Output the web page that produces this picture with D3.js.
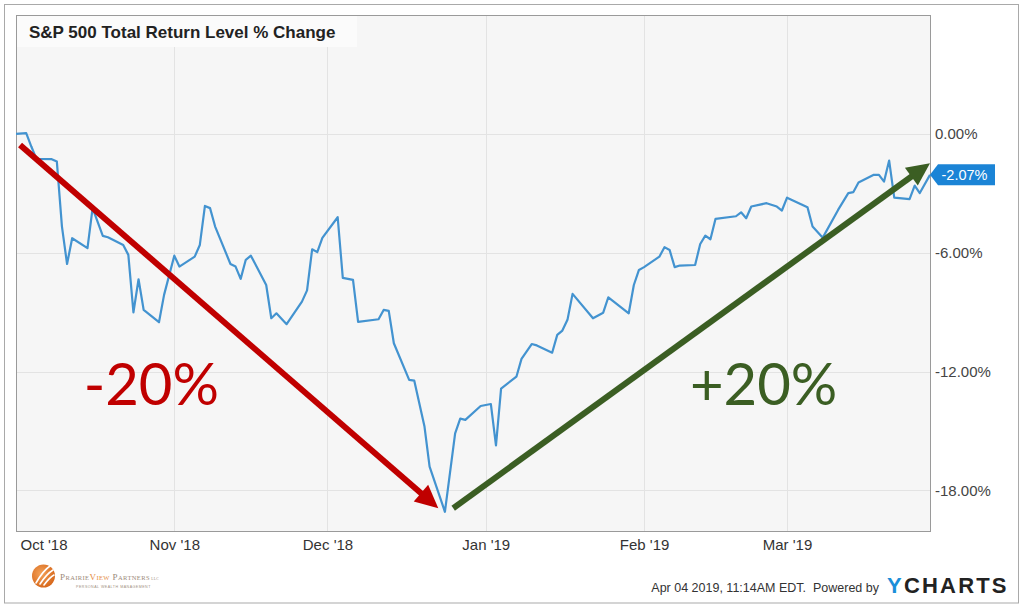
<!DOCTYPE html>
<html><head><meta charset="utf-8">
<script src="https://cdn.jsdelivr.net/npm/d3@7"></script>
<style>html,body{margin:0;padding:0;background:#fff;} svg{display:block;}</style>
</head><body><svg id="chart" width="1024" height="608"></svg>
<script>
const titleText = "S&P 500 Total Return Level % Change";
const dates = [
"2018-10-01","2018-10-03","2018-10-04","2018-10-05","2018-10-08","2018-10-09","2018-10-10","2018-10-11","2018-10-12","2018-10-15",
"2018-10-16","2018-10-18","2018-10-19","2018-10-22","2018-10-23","2018-10-24","2018-10-25","2018-10-26","2018-10-29","2018-10-30",
"2018-11-01","2018-11-02","2018-11-05","2018-11-06","2018-11-07","2018-11-08","2018-11-09","2018-11-12","2018-11-13","2018-11-14",
"2018-11-15","2018-11-16","2018-11-19","2018-11-20","2018-11-21","2018-11-23","2018-11-26","2018-11-27","2018-11-28","2018-11-29",
"2018-11-30","2018-12-03","2018-12-04","2018-12-06","2018-12-07","2018-12-11","2018-12-12","2018-12-13","2018-12-14","2018-12-17",
"2018-12-18","2018-12-20","2018-12-21","2018-12-24","2018-12-26","2018-12-27","2018-12-28","2018-12-31","2019-01-02","2019-01-03",
"2019-01-04","2019-01-07","2019-01-08","2019-01-10","2019-01-11","2019-01-14","2019-01-15","2019-01-16","2019-01-17","2019-01-18",
"2019-01-22","2019-01-24","2019-01-25","2019-01-29","2019-01-30","2019-01-31","2019-02-01","2019-02-04","2019-02-05","2019-02-06",
"2019-02-07","2019-02-08","2019-02-11","2019-02-12","2019-02-13","2019-02-14","2019-02-15","2019-02-19","2019-02-20","2019-02-21",
"2019-02-22","2019-02-25","2019-02-27","2019-02-28","2019-03-01","2019-03-05","2019-03-06","2019-03-08","2019-03-11","2019-03-13",
"2019-03-14","2019-03-15","2019-03-18","2019-03-19","2019-03-20","2019-03-21","2019-03-22","2019-03-25","2019-03-26","2019-03-27",
"2019-03-29"];
const values = [
0.00,0.04,-0.64,-1.26,-1.28,-1.40,-4.68,-6.57,-5.27,-5.77,
-3.75,-5.15,-5.22,-5.61,-6.11,-9.01,-7.34,-8.89,-9.51,-8.13,
-6.15,-6.70,-6.20,-5.61,-3.64,-3.75,-4.68,-6.57,-6.70,-7.32,
-6.36,-6.15,-7.63,-9.31,-9.06,-9.61,-8.47,-7.90,-5.83,-5.97,
-5.25,-4.21,-7.27,-7.37,-9.49,-9.36,-8.89,-8.94,-10.57,-12.42,
-12.46,-14.78,-16.80,-19.08,-15.12,-14.38,-14.44,-13.74,-13.64,-15.73,
-12.86,-12.26,-11.36,-10.61,-10.68,-11.05,-10.15,-9.93,-9.39,-8.08,
-9.31,-9.03,-8.25,-9.06,-7.63,-6.87,-6.73,-6.20,-5.72,-5.86,
-6.73,-6.65,-6.62,-5.56,-5.14,-5.32,-4.29,-4.16,-3.96,-4.26,
-3.67,-3.50,-3.67,-3.87,-3.22,-3.70,-4.68,-5.24,-3.84,-2.99,
-2.94,-2.46,-2.07,-2.07,-2.41,-1.35,-3.22,-3.30,-2.61,-2.99,
-2.07];
const yTickValues = [0, -6, -12, -18];
const monthTicks = ["2018-10-01","2018-11-01","2018-12-01","2019-01-01","2019-02-01","2019-03-01"];
const monthLabels = ["Oct '18","Nov '18","Dec '18","Jan '19","Feb '19","Mar '19"];
const lastLabel = "-2.07%";
const downArrow = [["2018-10-01T19:00:00Z", -0.56], ["2018-12-22T17:00:00Z", -18.9]];
const upArrow = [["2018-12-25T15:00:00Z", -18.9], ["2019-03-29T00:00:00Z", -1.48]];
const annotTexts = ["-20%", "+20%"];
const annotDates = ["2018-10-27T12:00:00Z", "2019-02-24T10:00:00Z"];
const annotValues = [-13.7, -13.7];
const footerText = "Apr 04 2019, 11:14AM EDT.  Powered by";

const FONT = "'Liberation Sans', Arial, Helvetica, sans-serif";
const svg = d3.select("#chart");
const L = 16, R = 930, T = 15, B = 531;
const fmt = d3.formatLocale({decimal: ".", thousands: ",", grouping: [3], currency: ["$", ""], minus: "-"}).format(".2f");

const parsed = dates.map(d => d3.isoParse(d));
const x = d3.scaleUtc().domain(d3.extent(parsed)).range([L, R]);
const y = d3.scaleLinear().domain([-20.05, 6]).range([B, T]);

// outer frame
svg.append("rect").attr("x", 4.5).attr("y", 4.5).attr("width", 1014).attr("height", 598.5)
  .attr("fill", "#fff").attr("stroke", "#a9a9a9");

// plot background
svg.append("rect").attr("x", L).attr("y", T).attr("width", R - L).attr("height", B - T)
  .attr("fill", "#f6f6f6");

// gridlines
const monthDates = monthTicks.map(d => d3.isoParse(d));
svg.append("g").selectAll("line").data(monthDates.slice(1)).join("line")
  .attr("x1", d => Math.round(x(d)) + 0.5).attr("x2", d => Math.round(x(d)) + 0.5)
  .attr("y1", T).attr("y2", B).attr("stroke", "#e3e3e3");
svg.append("g").selectAll("line").data(yTickValues).join("line")
  .attr("x1", L).attr("x2", R)
  .attr("y1", d => Math.round(y(d)) + 0.5).attr("y2", d => Math.round(y(d)) + 0.5)
  .attr("stroke", "#e3e3e3");

// title box
svg.append("rect").attr("x", L + 1).attr("y", T + 1).attr("width", 340).attr("height", 31)
  .attr("fill", "#fbfbfb");
svg.append("text").attr("x", 29).attr("y", 38).text(titleText)
  .attr("font-family", FONT).attr("font-weight", "bold").attr("font-size", 17).attr("fill", "#222");

// plot border
svg.append("rect").attr("x", L + 0.5).attr("y", T + 0.5).attr("width", R - L).attr("height", B - T)
  .attr("fill", "none").attr("stroke", "#9a9a9a");

// line
const line = d3.line().x((d, i) => x(parsed[i])).y(d => y(d));
svg.append("path").datum(values).attr("d", line)
  .attr("fill", "none").attr("stroke", "#4393d0").attr("stroke-width", 2.2)
  .attr("stroke-linejoin", "round");

// x axis
const xAxis = svg.append("g").attr("transform", `translate(0,${B})`)
  .call(d3.axisBottom(x).tickValues(monthDates).tickFormat((d, i) => monthLabels[i]).tickSize(0).tickPadding(8));
xAxis.select(".domain").remove();
xAxis.selectAll("text").attr("font-family", FONT).attr("font-size", 15).attr("fill", "#333");
xAxis.selectAll(".tick").filter((d, i) => i === 0).select("text")
  .attr("text-anchor", "start").attr("x", 4);

// y axis (right)
const yAxis = svg.append("g").attr("transform", `translate(${R},0)`)
  .call(d3.axisRight(y).tickValues(yTickValues).tickFormat(d => fmt(d) + "%").tickSize(0).tickPadding(5));
yAxis.select(".domain").remove();
yAxis.selectAll("text").attr("font-family", FONT).attr("font-size", 15).attr("fill", "#444");

// last value badge
const lastY = y(values[values.length - 1]);
const badge = svg.append("g").attr("transform", `translate(${R},${lastY})`);
badge.append("path").attr("d", "M0,0 L8,-10.5 L65,-10.5 L65,10.5 L8,10.5 Z").attr("fill", "#1b84d6");
badge.append("text").attr("x", 11.5).attr("y", 0).attr("dy", "0.36em").text(lastLabel)
  .attr("font-family", FONT).attr("font-size", 14.5).attr("fill", "#fff");

// annotation arrows
function arrow(pts, color) {
  const s = [x(d3.isoParse(pts[0][0])), y(pts[0][1])];
  const t = [x(d3.isoParse(pts[1][0])), y(pts[1][1])];
  const dx = t[0] - s[0], dy = t[1] - s[1], len = Math.hypot(dx, dy);
  const ux = dx / len, uy = dy / len, nx = -uy, ny = ux;
  const hl = 23, hw = 11;
  svg.append("line").attr("x1", s[0]).attr("y1", s[1])
    .attr("x2", t[0] - ux * (hl - 4)).attr("y2", t[1] - uy * (hl - 4))
    .attr("stroke", color).attr("stroke-width", 6);
  const bx = t[0] - ux * hl, by = t[1] - uy * hl;
  svg.append("path").attr("d", `M${t[0]},${t[1]} L${bx + nx * hw},${by + ny * hw} L${bx - nx * hw},${by - ny * hw} Z`)
    .attr("fill", color);
}
arrow(downArrow, "#c00000");
arrow(upArrow, "#3b5e23");

const annotColors = ["#c00000", "#3b5e23"];
svg.append("g").selectAll("text").data(annotTexts).join("text")
  .attr("x", (d, i) => x(d3.isoParse(annotDates[i])))
  .attr("y", (d, i) => y(annotValues[i]))
  .attr("text-anchor", "middle").text(d => d)
  .attr("font-family", "Lato, 'Open Sans', sans-serif").attr("font-size", 58)
  .attr("fill", (d, i) => annotColors[i]);

// footer
svg.append("text").attr("x", 879).attr("y", 591.5).attr("text-anchor", "end").text(footerText)
  .attr("font-family", FONT).attr("font-size", 12.5).attr("fill", "#333").style("white-space", "pre");
const yc = svg.append("text").attr("x", 887).attr("y", 592.5)
  .attr("font-family", FONT).attr("font-weight", "bold").attr("font-size", 22).attr("letter-spacing", 2.2);
yc.append("tspan").attr("fill", "#1b8fd9").text("Y");
yc.append("tspan").attr("fill", "#222").text("CHARTS");

// PrairieView Partners logo
const defs = svg.append("defs");
const grad = defs.append("radialGradient").attr("id", "og").attr("cx", "40%").attr("cy", "40%").attr("r", "60%");
grad.append("stop").attr("offset", "0%").attr("stop-color", "#f4a35a");
grad.append("stop").attr("offset", "100%").attr("stop-color", "#d86a1e");
svg.append("circle").attr("cx", 43.5).attr("cy", 576).attr("r", 11.5).attr("fill", "url(#og)");
svg.append("path").attr("d", "M36,583 C40,576 44,570 50,566 M40,584 C44,578 48,573 53,570 M44,585 C47,581 50,577 54,575")
  .attr("fill", "none").attr("stroke", "#fff").attr("stroke-width", 1.6).attr("stroke-linecap", "round");
const lg = svg.append("text").attr("x", 60).attr("y", 579.5).attr("font-family", "'Liberation Serif', 'DejaVu Serif', serif")
  .attr("letter-spacing", 0.4);
[["P", 9, "#9b8a7a"], ["RAIRIE", 6.5, "#9b8a7a"], ["V", 9, "#e58c3e"], ["IEW", 6.5, "#e58c3e"],
 [" P", 9, "#9b8a7a"], ["ARTNERS", 6.5, "#9b8a7a"], [" LLC", 3.5, "#9b8a7a"]].forEach(p => {
  lg.append("tspan").attr("font-size", p[1]).attr("fill", p[2]).text(p[0]).style("white-space", "pre");
});
svg.append("text").attr("x", 76).attr("y", 588).text("PERSONAL WEALTH MANAGEMENT")
  .attr("font-family", FONT).attr("font-size", 3.6).attr("letter-spacing", 0.5).attr("fill", "#a09080");
</script></body></html>
